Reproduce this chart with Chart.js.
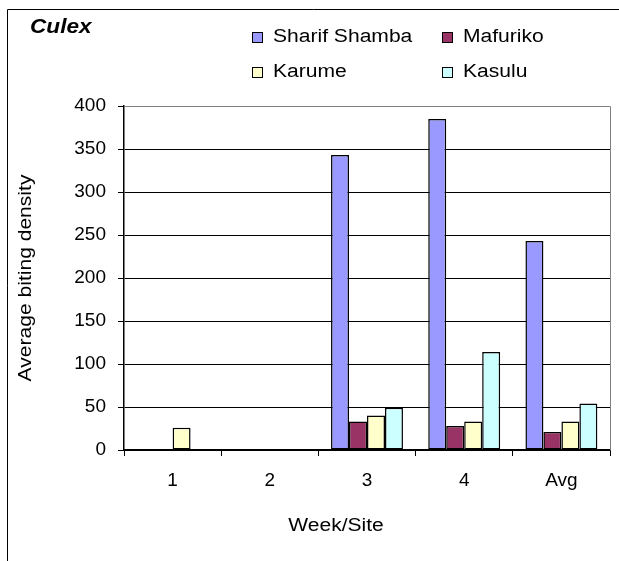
<!DOCTYPE html>
<html>
<head>
<meta charset="utf-8">
<script src="https://cdn.jsdelivr.net/npm/chart.js@4.4.1/dist/chart.umd.min.js"></script>
<style>
  html, body { margin: 0; padding: 0; background: #fff; }
  #wrap { width: 619px; height: 561px; position: relative; }
</style>
</head>
<body>
<div id="wrap"><canvas id="c" width="619" height="561"></canvas></div>
<script>
// values
const weeks = ["1", "2", "3", "4", "Avg"];
const sharifShamba = [0, 0, 343, 385, 243];
const mafuriko = [0, 0, 33, 28, 21];
const karume = [26, 0, 40, 33, 33];
const kasulu = [0, 0, 49, 114, 54];
const yTicks = [0, 50, 100, 150, 200, 250, 300, 350, 400];

const FONT = "'Liberation Sans', Arial, sans-serif";

// the source text is a bit wider than plain Arial, so stretch it sideways
function wideText(ctx, text, x, y, sx) {
    ctx.save();
    ctx.translate(x, y);
    ctx.scale(sx, 1);
    ctx.fillText(text, 0, 0);
    ctx.restore();
}

// title, legend, axis titles and outer frame are painted by hand
const decor = {
    id: "decor",
    afterDraw(chart) {
        const ctx = chart.ctx;
        const area = chart.chartArea;
        ctx.save();

        // outer frame (only left + top visible in the crop)
        ctx.strokeStyle = "#000";
        ctx.lineWidth = 1;
        ctx.beginPath();
        ctx.moveTo(7.5, 561);
        ctx.lineTo(7.5, 9.5);
        ctx.lineTo(619, 9.5);
        ctx.stroke();

        // plot frame top/right
        ctx.strokeStyle = "#808080";
        ctx.beginPath();
        ctx.moveTo(area.left, Math.round(area.top) + 0.5);
        ctx.lineTo(Math.round(area.right) + 0.5, Math.round(area.top) + 0.5);
        ctx.lineTo(Math.round(area.right) + 0.5, area.bottom);
        ctx.stroke();

        ctx.fillStyle = "#000";
        ctx.font = "italic bold 20px " + FONT;
        ctx.textBaseline = "middle";
        ctx.textAlign = "left";
        wideText(ctx, "Culex", 30, 27, 1.13);

        // legend, 2 x 2
        ctx.font = "18px " + FONT;
        chart.data.datasets.forEach((ds, i) => {
            const x = i % 2 ? 442 : 252;
            const y = 37.5 + Math.floor(i / 2) * 35;
            ctx.fillStyle = ds.backgroundColor;
            ctx.fillRect(x, y - 5.5, 11, 11);
            ctx.strokeStyle = "#000";
            ctx.lineWidth = 1;
            ctx.strokeRect(x + 0.5, y - 5, 10, 10);
            ctx.fillStyle = "#000";
            wideText(ctx, ds.label, x + 21, y, 1.17);
        });

        // axis titles
        ctx.textAlign = "center";
        wideText(ctx, "Week/Site", 336, 526, 1.17);
        ctx.translate(26, (area.top + area.bottom) / 2);
        ctx.rotate(-Math.PI / 2);
        wideText(ctx, "Average biting density", 0, 0, 1.17);
        ctx.restore();
    }
};

const mkSet = (label, data, color) => ({
    label, data,
    backgroundColor: color,
    borderColor: "#000",
    borderWidth: 1.5,
    borderSkipped: false,
    categoryPercentage: 0.74,
    barPercentage: 1.0,
});

new Chart(document.getElementById("c"), {
    type: "bar",
    data: {
        labels: weeks,
        datasets: [
            mkSet("Sharif Shamba", sharifShamba, "#9999FF"),
            mkSet("Mafuriko", mafuriko, "#993366"),
            mkSet("Karume", karume, "#FFFFCC"),
            mkSet("Kasulu", kasulu, "#CCFFFF"),
        ],
    },
    options: {
        responsive: false,
        animation: false,
        events: [],
        layout: { padding: { top: 106, right: 9, bottom: 0, left: 0 } },
        plugins: { legend: { display: false }, title: { display: false }, tooltip: { enabled: false } },
        scales: {
            x: {
                afterFit: (s) => { s.height = 111; },
                grid: { display: true, drawOnChartArea: false, drawTicks: true, tickLength: 6, color: "#000", offset: true },
                border: { color: "#000", width: 1.5 },
                ticks: { color: "#000", font: { family: FONT, size: 19 }, padding: 13, maxRotation: 0 },
            },
            y: {
                min: 0,
                max: 400,
                afterFit: (s) => { s.width = 124; },
                afterBuildTicks: (s) => { s.ticks = yTicks.map(v => ({ value: v })); },
                grid: { color: "#000", lineWidth: 1, tickLength: 6, tickColor: "#000" },
                border: { color: "#000", width: 1.5 },
                ticks: { color: "#000", font: { family: FONT, size: 19 }, padding: 12 },
            },
        },
    },
    plugins: [decor],
});
</script>
</body>
</html>
